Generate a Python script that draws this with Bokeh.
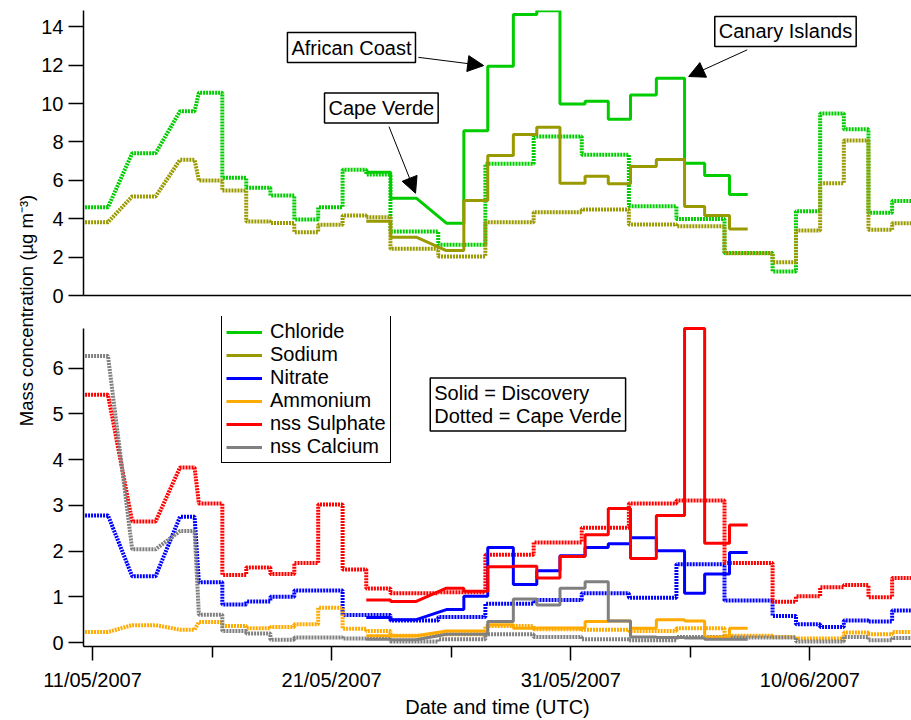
import math
import pandas as pd
from bokeh.plotting import figure
from bokeh.layouts import row, column
from bokeh.models import (Range1d, FixedTicker, DatetimeTickFormatter, Label, Arrow,
                          NormalHead, Legend, LegendItem)
from bokeh.embed import file_html
from bokeh.resources import INLINE

BASE = pd.Timestamp("2007-05-11 00:00")

# ---- sampling periods (days after 11/05/2007 00:00 UTC) ----
cv_start = [-0.56, 1.66, 3.66, 4.45, 5.43, 6.43, 7.44, 8.44, 9.44, 10.46, 11.45, 12.46, 14.46,
            16.43, 18.45, 20.46, 22.43, 24.42, 26.43, 28.44, 29.42, 30.43, 31.42, 32.45, 33.44]
cv_end = [0.65, 2.64, 4.27, 5.43, 6.43, 7.44, 8.44, 9.44, 10.46, 11.45, 12.46, 14.46, 16.43,
          18.45, 20.46, 22.43, 24.42, 26.43, 28.44, 29.42, 30.43, 31.42, 32.45, 33.44, 34.45]
ds_start = [11.45, 12.47, 14.8, 15.53, 16.53, 17.6, 18.58, 19.55, 20.6, 21.57, 22.5, 23.58,
            24.76, 25.6, 26.64]
ds_end = [12.47, 13.54, 15.53, 16.53, 17.6, 18.58, 19.55, 20.6, 21.57, 22.5, 23.58, 24.76,
          25.6, 26.64, 27.4]

# ---- Cape Verde (dotted) ----
cv_chloride = [4.6, 7.41, 9.6, 10.57, 6.13, 5.62, 5.21, 3.96, 4.6, 6.55, 6.3, 3.33, 2.64,
               6.86, 8.28, 7.34, 4.65, 3.99, 2.22, 1.25, 4.39, 9.48, 8.66, 4.31, 4.93]
cv_sodium = [3.82, 5.16, 7.07, 5.99, 5.47, 3.85, 3.78, 3.3, 3.68, 4.17, 4.08, 2.43, 2.03,
             3.82, 4.34, 4.48, 3.7, 3.61, 2.2, 1.73, 3.39, 5.85, 8.07, 3.42, 3.77]
cv_nitrate = [2.78, 1.45, 2.75, 1.32, 0.83, 0.9, 1.0, 1.14, 1.14, 0.6, 0.6, 0.48, 0.56,
              0.85, 0.93, 1.08, 0.98, 1.71, 0.92, 0.58, 0.40, 0.34, 0.48, 0.46, 0.70]
cv_ammonium = [0.23, 0.38, 0.28, 0.45, 0.36, 0.31, 0.34, 0.4, 0.76, 0.3, 0.25, 0.15, 0.18,
               0.36, 0.29, 0.28, 0.25, 0.31, 0.15, 0.12, 0.09, 0.09, 0.22, 0.18, 0.23]
cv_sulphate = [5.42, 2.65, 3.83, 3.04, 1.48, 1.64, 1.5, 1.74, 3.02, 1.6, 1.18, 1.08, 1.1,
               1.92, 2.19, 2.51, 3.04, 3.11, 1.74, 0.89, 1.01, 1.21, 1.26, 0.99, 1.41]
cv_calcium = [6.27, 2.04, 2.44, 0.61, 0.25, 0.2, 0.06, 0.11, 0.11, 0.09, 0.1, 0.02, 0.07,
              0.18, 0.12, 0.07, 0.05, 0.12, 0.11, 0.11, 0.02, 0.02, 0.12, 0.05, 0.1]

# ---- RRS Discovery (solid) ----
ds_chloride = [6.42, 5.07, 3.77, 8.59, 11.94, 14.64, 14.84, 9.98, 10.12, 9.18, 10.45, 11.32,
               6.89, 6.25, 5.26]
ds_sodium = [3.87, 3.04, 2.34, 4.95, 7.29, 8.39, 8.77, 5.85, 6.21, 5.82, 6.72, 7.08, 4.64,
             4.17, 3.47]
ds_nitrate = [0.55, 0.5, 0.72, 1.01, 2.08, 1.27, 1.57, 1.9, 2.08, 2.16, 2.29, 2.01, 1.08,
              1.5, 1.97]
ds_ammonium = [0.15, 0.15, 0.25, 0.25, 0.39, 0.31, 0.32, 0.32, 0.46, 0.47, 0.31, 0.5, 0.47,
               0.12, 0.31]
ds_sulphate = [0.93, 0.9, 1.19, 1.12, 1.66, 1.67, 1.41, 1.88, 2.36, 2.93, 1.84, 2.78, 6.87,
               2.17, 2.57]
ds_calcium = [0.07, 0.06, 0.18, 0.18, 0.46, 0.95, 0.82, 1.19, 1.33, 0.47, 0.12, 0.11, 0.1,
              0.07, 0.07]

names = ["Chloride", "Sodium", "Nitrate", "Ammonium", "nss Sulphate", "nss Calcium"]
colors = {"Chloride": "#00cc00", "Sodium": "#999900", "Nitrate": "#0000ff",
          "Ammonium": "#ffaa00", "nss Sulphate": "#ff0000", "nss Calcium": "#808080"}

FONT = "Liberation Sans"
FS = "20px"
DOT = "2 1"
DOT_W = 4
SOLID_W = 3


def t(d):
    return BASE + pd.Timedelta(days=d)


def ms(d):
    return t(d).value / 1e6


def step_path(starts, ends, vals):
    xs, ys = [], []
    for s, e, v in zip(starts, ends, vals):
        xs += [t(s), t(e)]
        ys += [v, v]
    return xs, ys


xr = Range1d(start=t(-0.375), end=t(34.25))


def style_yaxis(ax, ticks):
    ax.ticker = FixedTicker(ticks=ticks, minor_ticks=[])
    ax.major_tick_out = 15
    ax.major_tick_in = 0
    ax.minor_tick_out = 0
    ax.minor_tick_in = 0
    ax.major_label_standoff = 5
    ax.major_label_text_font = FONT
    ax.major_label_text_font_size = FS
    ax.major_label_text_color = "black"
    ax.axis_line_width = 1.5
    ax.major_tick_line_width = 1.5
    ax.axis_line_color = "black"
    ax.major_tick_line_color = "black"


# ---------------- top panel ----------------
top = figure(width=873, height=310, x_range=xr, y_range=Range1d(0, 14.85),
             x_axis_type="datetime", output_backend="svg", toolbar_location=None,
             min_border_left=42, min_border_right=0, min_border_top=10, min_border_bottom=15)
top.grid.visible = False
top.outline_line_color = None
top.background_fill_color = "white"
top.border_fill_color = "white"
style_yaxis(top.yaxis[0], list(range(0, 15, 2)))
xa = top.xaxis[0]
xa.ticker = FixedTicker(ticks=[], minor_ticks=[])
xa.major_tick_out = 0
xa.major_tick_in = 0
xa.minor_tick_out = 0
xa.minor_tick_in = 0
xa.major_label_standoff = 0
xa.major_label_text_font_size = "0px"
xa.axis_line_width = 1.5
xa.axis_line_color = "black"

for nm, vals in [("Chloride", cv_chloride), ("Sodium", cv_sodium)]:
    x, y = step_path(cv_start, cv_end, vals)
    top.line(x, y, line_color=colors[nm], line_width=DOT_W, line_dash=DOT)
for nm, vals in [("Chloride", ds_chloride), ("Sodium", ds_sodium)]:
    x, y = step_path(ds_start, ds_end, vals)
    top.line(x, y, line_color=colors[nm], line_width=SOLID_W)


def callout(fig, text, xd, yv):
    fig.add_layout(Label(x=ms(xd), y=yv, text=text, text_align="center",
                         text_baseline="middle", text_font=FONT, text_font_size=FS,
                         text_color="black", border_line_color="black",
                         border_line_width=1.5, background_fill_color="white",
                         padding=4))


def pointer(fig, xs, ys, xe, ye):
    fig.add_layout(Arrow(x_start=ms(xs), y_start=ys, x_end=ms(xe), y_end=ye,
                         line_color="black", line_width=1,
                         end=NormalHead(size=16, fill_color="black", line_color="black",
                                        line_width=1)))


pointer(top, 13.63, 12.41, 16.36, 11.98)
pointer(top, 12.4, 8.8, 13.51, 5.33)
pointer(top, 27.38, 12.8, 24.93, 11.41)
callout(top, "African Coast", 10.83, 12.92)
callout(top, "Cape Verde", 12.08, 9.77)
callout(top, "Canary Islands", 28.98, 13.76)

# ---------------- bottom panel ----------------
Y0 = -0.087
bot = figure(width=873, height=410, x_range=xr, y_range=Range1d(Y0, 7.133),
             x_axis_type="datetime", output_backend="svg", toolbar_location=None,
             min_border_left=42, min_border_right=0, min_border_top=6, min_border_bottom=71)
bot.grid.visible = False
bot.outline_line_color = None
bot.background_fill_color = "white"
bot.border_fill_color = "white"
style_yaxis(bot.yaxis[0], list(range(0, 7)))
bot.yaxis[0].bounds = (Y0, 6.88)
bx = bot.xaxis[0]
bx.ticker = FixedTicker(ticks=[ms(d) for d in (0, 10, 20, 30)],
                        minor_ticks=[ms(d) for d in (5, 15, 25)])
fmt = "%d/%m/%Y"
bx.formatter = DatetimeTickFormatter(microseconds=fmt, milliseconds=fmt, seconds=fmt,
                                     minsec=fmt, minutes=fmt, hourmin=fmt, hours=fmt,
                                     days=fmt, months=fmt, years=fmt)
bx.major_tick_out = 14
bx.major_tick_in = 0
bx.minor_tick_out = 11
bx.minor_tick_in = 0
bx.major_label_standoff = 8
bx.major_label_text_font = FONT
bx.major_label_text_font_size = FS
bx.major_label_text_color = "black"
bx.axis_line_width = 1.5
bx.major_tick_line_width = 1.5
bx.minor_tick_line_width = 1.5
bx.axis_line_color = "black"
bx.major_tick_line_color = "black"
bx.minor_tick_line_color = "black"
bx.axis_label = "Date and time (UTC)"
bx.axis_label_text_font = FONT
bx.axis_label_text_font_size = FS
bx.axis_label_text_font_style = "normal"
bx.axis_label_text_color = "black"
bx.axis_label_standoff = 2

cv_bottom = [("Nitrate", cv_nitrate), ("Ammonium", cv_ammonium),
             ("nss Sulphate", cv_sulphate), ("nss Calcium", cv_calcium)]
ds_bottom = [("Nitrate", ds_nitrate), ("Ammonium", ds_ammonium),
             ("nss Sulphate", ds_sulphate), ("nss Calcium", ds_calcium)]
for nm, vals in cv_bottom:
    x, y = step_path(cv_start, cv_end, vals)
    bot.line(x, y, line_color=colors[nm], line_width=DOT_W, line_dash=DOT)

legend_renderers = {}
for nm in ["Chloride", "Sodium"]:
    # legend-only entries (these species are plotted in the top panel)
    legend_renderers[nm] = bot.line(x=[t(0)], y=[float("nan")], line_color=colors[nm],
                                    line_width=SOLID_W)
for nm, vals in ds_bottom:
    x, y = step_path(ds_start, ds_end, vals)
    legend_renderers[nm] = bot.line(x, y, line_color=colors[nm], line_width=SOLID_W)

legend = Legend(items=[LegendItem(label=nm, renderers=[legend_renderers[nm]]) for nm in names],
                location=(138, 183), orientation="vertical", padding=4, spacing=0, margin=0,
                glyph_width=36, glyph_height=22, label_height=22, label_standoff=8,
                label_text_font=FONT, label_text_font_size=FS, label_text_color="black",
                border_line_color="black", border_line_width=1.5, border_line_alpha=1,
                background_fill_color="white", background_fill_alpha=1)
bot.add_layout(legend)

bot.add_layout(Label(x=ms(14.125), y=5.79, text="Solid = Discovery\nDotted = Cape Verde",
                     text_align="left", text_baseline="top", text_font=FONT,
                     text_font_size=FS, text_color="black", text_line_height=1.05,
                     border_line_color="black", border_line_width=1.5,
                     background_fill_color="white", padding=4))

# ---------------- shared y-axis title ----------------
lab = figure(width=38, height=720, x_range=Range1d(0, 38), y_range=Range1d(0, 720),
             output_backend="svg", toolbar_location=None, min_border=0,
             x_axis_location=None, y_axis_location=None)
lab.grid.visible = False
lab.outline_line_color = None
lab.add_layout(Label(x=26, y=720 - 310, text="Mass concentration (µg m⁻³)", angle=math.pi / 2,
                     text_align="center", text_baseline="middle", text_font=FONT,
                     text_font_size="18.5px", text_color="black"))

layout = row(lab, column(top, bot))
open("out.html", "w").write(file_html(layout, INLINE))
